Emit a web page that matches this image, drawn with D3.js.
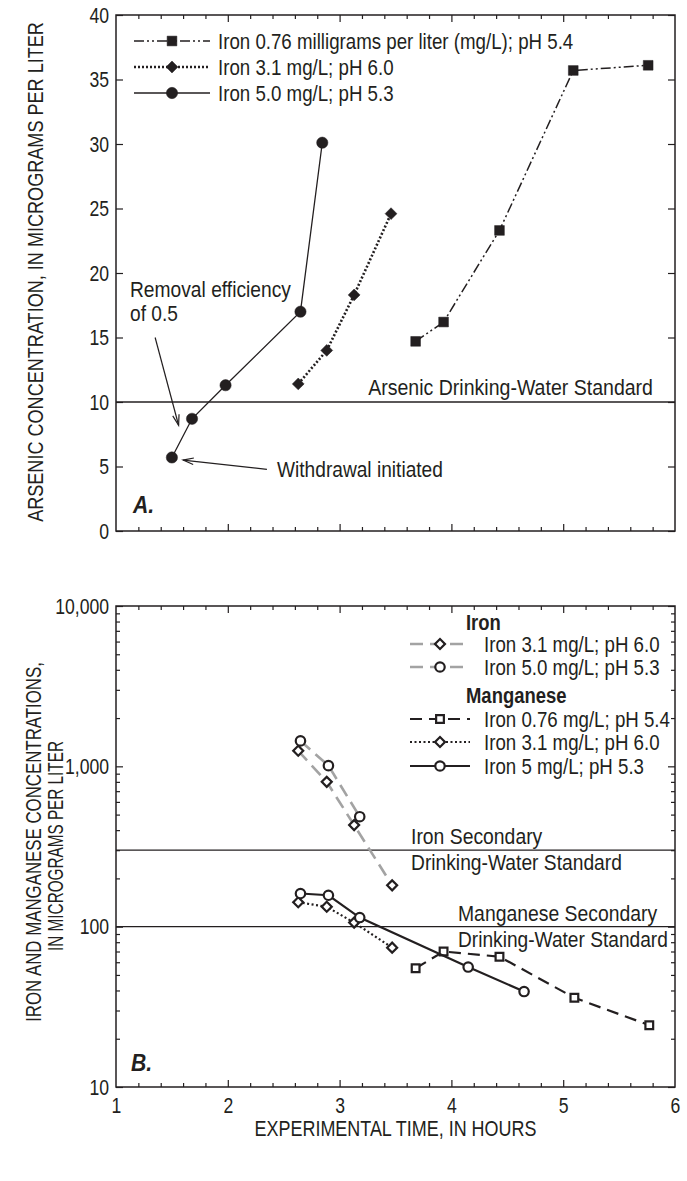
<!DOCTYPE html>
<html><head><meta charset="utf-8">
<script src="https://cdn.jsdelivr.net/npm/d3@7"></script>
<style>html,body{margin:0;padding:0;background:#fff;}svg{display:block;}</style>
</head><body>
<script>
// ---------- DATA ----------
// Panel A: arsenic concentration (µg/L) vs experimental time (hours)
const asFe076Time = [3.68, 3.93, 4.43, 5.09, 5.76];
const asFe076 = [14.7, 16.2, 23.3, 35.7, 36.1];
const asFe31Time = [2.63, 2.885, 3.13, 3.46];
const asFe31 = [11.4, 14.0, 18.3, 24.6];
const asFe50Time = [1.50, 1.68, 1.98, 2.65, 2.845];
const asFe50 = [5.7, 8.7, 11.3, 17.0, 30.1];
const arsenicStandard = 10;
const legendA = ["Iron 0.76 milligrams per liter (mg/L); pH 5.4", "Iron 3.1 mg/L; pH 6.0", "Iron 5.0 mg/L; pH 5.3"];

// Panel B: iron and manganese concentrations (µg/L)
const feB31Time = [2.63, 2.885, 3.13, 3.47];
const feB31 = [1250, 800, 430, 181];
const feB50Time = [2.65, 2.90, 3.18];
const feB50 = [1440, 1010, 485];
const mn076Time = [3.68, 3.93, 4.43, 5.10, 5.77];
const mn076 = [55, 70, 65, 36, 24.3];
const mn31Time = [2.63, 2.885, 3.13, 3.47];
const mn31 = [142, 133, 106, 74];
const mn50Time = [2.65, 2.90, 3.18, 4.15, 4.65];
const mn50 = [161, 157, 114, 56, 39.4];
const ironStandard = 300;
const manganeseStandard = 100;
const legendBIron = ["Iron 3.1 mg/L; pH 6.0", "Iron 5.0 mg/L; pH 5.3"];
const legendBMn = ["Iron 0.76 mg/L; pH 5.4", "Iron 3.1 mg/L; pH 6.0", "Iron 5 mg/L; pH 5.3"];

const xTickLabels = [1, 2, 3, 4, 5, 6];
const yTicksA = [0, 5, 10, 15, 20, 25, 30, 35, 40];
const yTicksB = [10, 100, 1000, 10000];

// ---------- SETUP ----------
const W = 687, H = 1181;
const FONT = "'Liberation Sans',Arial,sans-serif";
const FS = 22;
const INK = "#231f20";
const svg = d3.select("body").append("svg").attr("width", W).attr("height", H)
  .style("font-family", FONT).style("font-size", FS + "px");

const L = 116, R = 675;
const xA = d3.scaleLinear().domain([1, 6]).range([L, R]);
const yA = d3.scaleLinear().domain([0, 40]).range([531, 15]);
const xB = d3.scaleLinear().domain([1, 6]).range([L, R]);
const yB = d3.scaleLog().domain([10, 10000]).range([1087, 606]);

const xMinor = d3.range(1, 6.001, 0.2).map(v => +v.toFixed(1)).filter(v => Math.abs(v - Math.round(v)) > 1e-6);
const xMajor = [2, 3, 4, 5];

function clean(g) { g.select(".domain").remove(); g.selectAll("line").attr("stroke", INK).attr("stroke-width", 1.2); }

function frameTicks(xs, ys, yTop, yBot, yMajorVals, yMinorVals) {
  svg.append("g").attr("transform", `translate(0,${yBot})`).call(d3.axisBottom(xs).tickValues(xMinor).tickSize(-4).tickFormat("")).call(clean);
  svg.append("g").attr("transform", `translate(0,${yBot})`).call(d3.axisBottom(xs).tickValues(xMajor).tickSize(-7).tickFormat("")).call(clean);
  svg.append("g").attr("transform", `translate(0,${yTop})`).call(d3.axisTop(xs).tickValues(xMinor).tickSize(-4).tickFormat("")).call(clean);
  svg.append("g").attr("transform", `translate(0,${yTop})`).call(d3.axisTop(xs).tickValues(xMajor).tickSize(-7).tickFormat("")).call(clean);
  svg.append("g").attr("transform", `translate(${L},0)`).call(d3.axisLeft(ys).tickValues(yMajorVals).tickSize(-7).tickFormat("")).call(clean);
  svg.append("g").attr("transform", `translate(${R},0)`).call(d3.axisRight(ys).tickValues(yMajorVals).tickSize(-7).tickFormat("")).call(clean);
  if (yMinorVals) {
    svg.append("g").attr("transform", `translate(${L},0)`).call(d3.axisLeft(ys).tickValues(yMinorVals).tickSize(-4).tickFormat("")).call(clean);
    svg.append("g").attr("transform", `translate(${R},0)`).call(d3.axisRight(ys).tickValues(yMinorVals).tickSize(-4).tickFormat("")).call(clean);
  }
  svg.append("rect").attr("x", L).attr("y", yTop).attr("width", R - L).attr("height", yBot - yTop)
    .attr("fill", "none").attr("stroke", INK).attr("stroke-width", 1.5);
}

function symbolPath(type, size) { return d3.symbol().type(type).size(size)(); }

function drawSeries(xs, ys, times, vals, style, markerType, markerSize, filled) {
  const pts = times.map((t, i) => [t, vals[i]]);
  svg.append("path").datum(pts)
    .attr("d", d3.line().x(d => xs(d[0])).y(d => ys(d[1])))
    .attr("fill", "none").attr("stroke", style.color).attr("stroke-width", style.width)
    .attr("stroke-dasharray", style.dash || null);
  svg.append("g").selectAll("path").data(pts).join("path")
    .attr("transform", d => `translate(${xs(d[0])},${ys(d[1])})${markerType === "diamond" ? " rotate(45)" : ""}`)
    .attr("d", symbolPath(markerType === "circle" ? d3.symbolCircle : d3.symbolSquare, markerSize))
    .attr("fill", filled ? INK : "#fff").attr("stroke", INK).attr("stroke-width", filled ? 0.5 : 2.2);
}

function legendRow(x0, x1, y, style, markerType, markerSize, filled, label, textX) {
  svg.append("line").attr("x1", x0).attr("x2", x1).attr("y1", y).attr("y2", y)
    .attr("stroke", style.color).attr("stroke-width", style.width).attr("stroke-dasharray", style.dash || null);
  const mx = (x0 + x1) / 2;
  svg.append("path").attr("transform", `translate(${mx},${y})${markerType === "diamond" ? " rotate(45)" : ""}`)
    .attr("d", symbolPath(markerType === "circle" ? d3.symbolCircle : d3.symbolSquare, markerSize))
    .attr("fill", filled ? INK : "#fff").attr("stroke", INK).attr("stroke-width", filled ? 0.5 : 2.2);
  svg.append("text").attr("x", textX).attr("y", y).attr("dy", "0.36em").attr("fill", INK).attr("data-k", 0.85).text(label);
}

function arrow(xs, ys, from, to) {
  const x1 = xs(from[0]), y1 = ys(from[1]), x2 = xs(to[0]), y2 = ys(to[1]);
  svg.append("line").attr("x1", x1).attr("y1", y1).attr("x2", x2).attr("y2", y2).attr("stroke", INK).attr("stroke-width", 1.2);
  const a = Math.atan2(y2 - y1, x2 - x1), len = 11, sp = 0.3;
  const p1 = [x2 - len * Math.cos(a - sp), y2 - len * Math.sin(a - sp)];
  const p2 = [x2 - len * Math.cos(a + sp), y2 - len * Math.sin(a + sp)];
  svg.append("path").attr("d", `M${p1}L${x2},${y2}L${p2}`).attr("fill", "none").attr("stroke", INK).attr("stroke-width", 1.2);
}

function axisText(g) {
  g.select(".domain").remove();
  g.selectAll("text").attr("fill", INK).style("font-size", FS + "px").style("font-family", FONT);
}

// ---------- PANEL A ----------
frameTicks(xA, yA, 15, 531, yTicksA, null);
svg.append("g").attr("transform", `translate(${L},0)`)
  .call(d3.axisLeft(yA).tickValues(yTicksA).tickSize(0).tickPadding(7)).call(axisText);

svg.append("line").attr("x1", L).attr("x2", R).attr("y1", yA(arsenicStandard)).attr("y2", yA(arsenicStandard)).attr("stroke", INK).attr("stroke-width", 1.3);
svg.append("text").attr("x", 653).attr("y", yA(arsenicStandard) - 7).attr("text-anchor", "end").attr("fill", INK).attr("data-w", 285).text("Arsenic Drinking-Water Standard");

const styA076 = { color: INK, width: 1.5, dash: "10,3,2,3,2,3" };
const styA31 = { color: INK, width: 2.6, dash: "2,2" };
const styA50 = { color: INK, width: 1.3 };
drawSeries(xA, yA, asFe076Time, asFe076, styA076, "square", 95, true);
drawSeries(xA, yA, asFe31Time, asFe31, styA31, "diamond", 70, true);
drawSeries(xA, yA, asFe50Time, asFe50, styA50, "circle", 100, true);

legendRow(134, 210, 41, styA076, "square", 95, true, legendA[0], 218);
legendRow(134, 210, 67, styA31, "diamond", 70, true, legendA[1], 218);
legendRow(134, 210, 93, styA50, "circle", 100, true, legendA[2], 218);

svg.append("text").attr("x", 130).attr("y", 297).attr("fill", INK).attr("data-w", 161).text("Removal efficiency");
svg.append("text").attr("x", 130).attr("y", 321).attr("fill", INK).attr("data-k", 0.87).text("of 0.5");
arrow(xA, yA, [1.35, 15.0], [1.56, 8.2]);
arrow(xA, yA, [2.35, 4.78], [1.60, 5.5]);
svg.append("text").attr("x", 277).attr("y", 477).attr("fill", INK).attr("data-k", 0.87).text("Withdrawal initiated");
svg.append("text").attr("x", 133).attr("y", 513).attr("fill", INK).style("font-weight", "bold").style("font-style", "italic").style("font-size", "23px").attr("data-k", 0.92).text("A.");

svg.append("text").attr("transform", `translate(35,272) rotate(-90)`).attr("text-anchor", "middle").attr("dy", "0.36em").attr("fill", INK)
  .attr("data-w", 500).text("ARSENIC CONCENTRATION, IN MICROGRAMS PER LITER");

// ---------- PANEL B ----------
const yMinorB = [];
[10, 100, 1000].forEach(d => { for (let k = 2; k <= 9; k++) yMinorB.push(d * k); });
frameTicks(xB, yB, 606, 1087, yTicksB, yMinorB);
svg.append("g").attr("transform", `translate(${L},0)`)
  .call(d3.axisLeft(yB).tickValues(yTicksB).tickFormat(d3.format(",")).tickSize(0).tickPadding(7)).call(axisText);
svg.append("g").attr("transform", `translate(0,1087)`)
  .call(d3.axisBottom(xB).tickValues(xTickLabels).tickFormat(d3.format("d")).tickSize(0).tickPadding(10)).call(axisText);

svg.append("line").attr("x1", L).attr("x2", R).attr("y1", yB(ironStandard)).attr("y2", yB(ironStandard)).attr("stroke", INK).attr("stroke-width", 1.3);
svg.append("line").attr("x1", L).attr("x2", R).attr("y1", yB(manganeseStandard)).attr("y2", yB(manganeseStandard)).attr("stroke", INK).attr("stroke-width", 1.3);
svg.append("text").attr("x", 411).attr("y", yB(ironStandard) - 6).attr("fill", INK).attr("data-k", 0.88).text("Iron Secondary");
svg.append("text").attr("x", 411).attr("y", yB(ironStandard) + 20).attr("fill", INK).attr("data-w", 211).text("Drinking-Water Standard");
svg.append("text").attr("x", 458).attr("y", yB(manganeseStandard) - 6).attr("fill", INK).attr("data-k", 0.88).text("Manganese Secondary");
svg.append("text").attr("x", 458).attr("y", yB(manganeseStandard) + 20).attr("fill", INK).attr("data-w", 210).text("Drinking-Water Standard");

const styFe = { color: "#a3a3a3", width: 2.6, dash: "13,7" };
const styMn076 = { color: INK, width: 2.2, dash: "12,7" };
const styMn31 = { color: INK, width: 2.2, dash: "2,2.5" };
const styMn50 = { color: INK, width: 2.2 };
drawSeries(xB, yB, feB31Time, feB31, styFe, "diamond", 50, false);
drawSeries(xB, yB, feB50Time, feB50, styFe, "circle", 70, false);
drawSeries(xB, yB, mn076Time, mn076, styMn076, "square", 60, false);
drawSeries(xB, yB, mn31Time, mn31, styMn31, "diamond", 50, false);
drawSeries(xB, yB, mn50Time, mn50, styMn50, "circle", 70, false);

svg.append("text").attr("x", 466).attr("y", 630).style("font-weight", "bold").attr("fill", INK).attr("data-k", 0.84).text("Iron");
legendRow(410, 470, 644, styFe, "diamond", 50, false, legendBIron[0], 484);
legendRow(410, 470, 667, styFe, "circle", 70, false, legendBIron[1], 484);
svg.append("text").attr("x", 466).attr("y", 703).style("font-weight", "bold").attr("fill", INK).attr("data-k", 0.84).text("Manganese");
legendRow(410, 470, 719, styMn076, "square", 60, false, legendBMn[0], 484);
legendRow(410, 470, 742, styMn31, "diamond", 50, false, legendBMn[1], 484);
legendRow(410, 470, 766, styMn50, "circle", 70, false, legendBMn[2], 484);

svg.append("text").attr("x", 131).attr("y", 1071).attr("fill", INK).style("font-weight", "bold").style("font-style", "italic").style("font-size", "23px").attr("data-k", 0.92).text("B.");

svg.append("text").attr("transform", `translate(33,842) rotate(-90)`).attr("text-anchor", "middle").attr("dy", "0.36em").attr("fill", INK)
  .attr("data-w", 360).text("IRON AND MANGANESE CONCENTRATIONS,");
svg.append("text").attr("transform", `translate(55,846) rotate(-90)`).attr("text-anchor", "middle").attr("dy", "0.36em").attr("fill", INK)
  .attr("data-w", 210).text("IN MICROGRAMS PER LITER");
svg.append("text").attr("x", (L + R) / 2).attr("y", 1136).attr("text-anchor", "middle").attr("fill", INK)
  .attr("data-w", 282).text("EXPERIMENTAL TIME, IN HOURS");

// ---------- condensed lettering (reference uses a condensed face): horizontal scale about each text's anchor ----------
svg.selectAll("text").each(function () {
  const t = d3.select(this);
  const w = this.getComputedTextLength();
  if (!w) return;
  let k;
  if (t.attr("data-w")) k = +t.attr("data-w") / w;
  else k = t.attr("data-k") ? +t.attr("data-k") : (/[a-z]/.test(this.textContent) ? 0.85 : 0.8);
  const prev = t.attr("transform");
  if (prev) {
    t.attr("transform", `${prev} scale(${k},1)`);
  } else {
    const x = +(t.attr("x") || 0), y = +(t.attr("y") || 0);
    t.attr("transform", `translate(${x},${y}) scale(${k},1) translate(${-x},${-y})`);
  }
});
</script>
</body></html>
